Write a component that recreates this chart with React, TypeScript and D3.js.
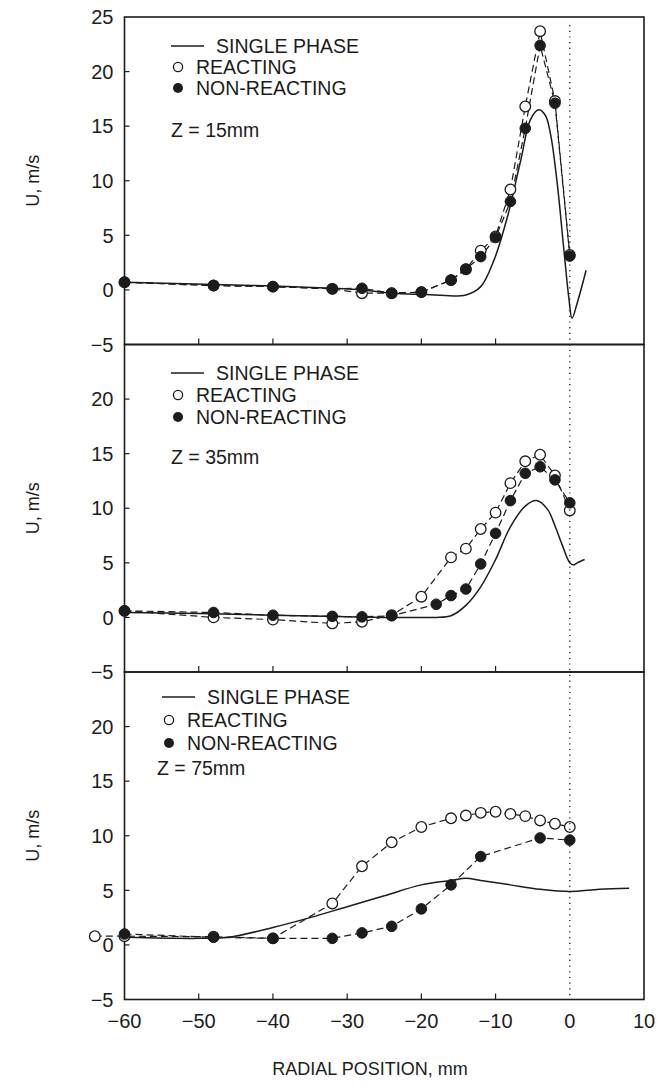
import React from "react";
import * as d3 from "d3";

// ---------- DATA ----------
const zLabels = ["Z = 15mm", "Z = 35mm", "Z = 75mm"];
const legendLabels = ["SINGLE PHASE", "REACTING", "NON-REACTING"];
const xTicks = [-60, -50, -40, -30, -20, -10, 0, 10];
const yTicksTop = [25, 20, 15, 10, 5, 0, -5];
const yTicksLower = [20, 15, 10, 5, 0, -5];

// Panel 1 (Z = 15mm)
const p1SingleX = [-60, -48, -40, -32, -28, -24, -20, -14, -12, -10.2, -8.4, -6.6, -5.3, -4.2, -3.3, -2.6, -1.7, -0.8, -0.1, 0.3, 1.0, 2.2];
const p1SingleY = [0.7, 0.5, 0.35, 0.15, 0.0, -0.3, -0.4, -0.46, 0.3, 2.75, 6.7, 11.9, 15.6, 16.5, 16.0, 14.3, 9.8, 3.7, -0.9, -2.6, -1.2, 1.8];
const p1ReactX = [-60, -48, -40, -32, -28, -24, -20, -16, -14, -12, -10, -8, -6, -4, -2, 0];
const p1ReactY = [0.7, 0.4, 0.3, 0.1, -0.3, -0.3, -0.2, 0.9, 1.9, 3.6, 4.9, 9.2, 16.8, 23.7, 17.3, 3.2];
const p1NonX = [-60, -48, -40, -32, -28, -24, -20, -16, -14, -12, -10, -8, -6, -4, -2, 0];
const p1NonY = [0.7, 0.4, 0.3, 0.1, 0.15, -0.3, -0.2, 0.9, 1.9, 3.05, 4.8, 8.1, 14.8, 22.4, 17.1, 3.1];

// Panel 2 (Z = 35mm)
const p2SingleX = [-60, -50, -40, -30, -25, -20, -18, -16, -14, -12, -10, -8, -6, -4.5, -3, -2, -1, 0, 0.5, 1, 2];
const p2SingleY = [0.45, 0.35, 0.2, 0.05, 0.0, 0.0, 0.0, 0.15, 1.1, 2.8, 5.3, 8.3, 10.2, 10.7, 9.9, 8.4, 6.6, 5.0, 4.8, 5.0, 5.3];
const p2ReactX = [-60, -48, -40, -32, -28, -24, -20, -16, -14, -12, -10, -8, -6, -4, -2, 0];
const p2ReactY = [0.6, 0.0, -0.2, -0.55, -0.4, 0.2, 1.9, 5.5, 6.3, 8.1, 9.6, 12.3, 14.3, 14.9, 13.0, 9.8];
const p2NonX = [-60, -48, -40, -32, -28, -24, -18, -16, -14, -12, -10, -8, -6, -4, -2, 0];
const p2NonY = [0.6, 0.45, 0.2, 0.1, 0.05, 0.15, 1.2, 2.0, 2.6, 4.9, 7.7, 10.7, 13.2, 13.8, 12.6, 10.5];

// Panel 3 (Z = 75mm)
const p3SingleX = [-60, -50, -46, -40, -35, -30, -25, -20, -16, -14, -12, -8, -4, 0, 4, 8];
const p3SingleY = [0.7, 0.6, 0.7, 1.6, 2.5, 3.5, 4.5, 5.5, 5.9, 6.1, 5.9, 5.5, 5.1, 4.9, 5.1, 5.2];
const p3ReactX = [-64, -60, -48, -40, -32, -28, -24, -20, -16, -14, -12, -10, -8, -6, -4, -2, 0];
const p3ReactY = [0.8, 0.8, 0.75, 0.6, 3.8, 7.2, 9.4, 10.8, 11.6, 11.85, 12.1, 12.2, 12.0, 11.8, 11.4, 11.1, 10.8];
const p3NonX = [-60, -48, -40, -32, -28, -24, -20, -16, -12, -4, 0];
const p3NonY = [1.0, 0.7, 0.6, 0.6, 1.1, 1.7, 3.3, 5.5, 8.1, 9.8, 9.6];

// ---------- LAYOUT ----------
const W = 660;
const H = 1086;
const X0 = 124.5;
const X1 = 644;
const PANEL_TOPS = [17, 344.5, 672];
const PANEL_H = 327.5;
const FONT = "'Liberation Sans', Arial, Helvetica, sans-serif";
const INK = "#1c1c1c";

const legendOffsets = [
  { lx: 171, ly: [29, 50, 71], zx: 171, zy: 113 },
  { lx: 171, ly: [28.5, 50.5, 72.5], zx: 171, zy: 112.5 },
  { lx: 162, ly: [25, 48, 71], zx: 157, zy: 96 },
];

type Pt = [number, number];
const zip = (xs: number[], ys: number[]): Pt[] => xs.map((x, i) => [x, ys[i]]);

const panels = [
  { single: zip(p1SingleX, p1SingleY), react: zip(p1ReactX, p1ReactY), non: zip(p1NonX, p1NonY) },
  { single: zip(p2SingleX, p2SingleY), react: zip(p2ReactX, p2ReactY), non: zip(p2NonX, p2NonY) },
  { single: zip(p3SingleX, p3SingleY), react: zip(p3ReactX, p3ReactY), non: zip(p3NonX, p3NonY) },
];

const fmt = (v: number) => (v < 0 ? "\u2212" + Math.abs(v) : String(v));

export default function App() {
  const x = d3.scaleLinear().domain([-60, 10]).range([X0, X1]);
  const R = 5.3;

  return (
    <svg
      width={W}
      height={H}
      style={{ display: "block", background: "#fff", position: "absolute", left: 0, top: 0 }}
    >
      <rect x={0} y={0} width={W} height={H} fill="#fff" />
      {panels.map((p, pi) => {
        const top = PANEL_TOPS[pi];
        const bottom = top + PANEL_H;
        const y = d3.scaleLinear().domain([-5, 25]).range([bottom, top]);
        const lineSmooth = d3
          .line<Pt>()
          .x((d) => x(d[0]))
          .y((d) => y(d[1]))
          .curve(d3.curveCatmullRom.alpha(0.5));
        const lineStraight = d3
          .line<Pt>()
          .x((d) => x(d[0]))
          .y((d) => y(d[1]));
        const yTicks = pi === 0 ? yTicksTop : yTicksLower;
        const lg = legendOffsets[pi];
        return (
          <g key={pi}>
            <rect x={X0} y={top} width={X1 - X0} height={PANEL_H} fill="none" stroke={INK} strokeWidth={1.6} />
            {yTicks.map((t) => (
              <g key={t}>
                {t > -5 && t < 25 && (
                  <line x1={X0} x2={X0 + 5} y1={y(t)} y2={y(t)} stroke={INK} strokeWidth={1.2} />
                )}
                <text
                  x={X0 - 11}
                  y={y(t)}
                  dy="0.36em"
                  textAnchor="end"
                  fontFamily={FONT}
                  fontSize={20}
                  fill={INK}
                >
                  {fmt(t)}
                </text>
              </g>
            ))}
            {xTicks
              .filter((t) => t > -60 && t < 0)
              .map((t) => (
                <line key={t} x1={x(t)} x2={x(t)} y1={bottom} y2={bottom - 6} stroke={INK} strokeWidth={1.2} />
              ))}
            <text
              transform={`translate(33,${top + PANEL_H / 2}) rotate(-90)`}
              textAnchor="middle"
              dy="0.35em"
              fontFamily={FONT}
              fontSize={18}
              fill={INK}
            >
              U, m/s
            </text>
            <path d={lineSmooth(p.single) || ""} fill="none" stroke={INK} strokeWidth={1.5} />
            <path d={lineStraight(p.react) || ""} fill="none" stroke={INK} strokeWidth={1.2} strokeDasharray="7,4" />
            <path d={lineStraight(p.non) || ""} fill="none" stroke={INK} strokeWidth={1.2} strokeDasharray="7,4" />
            {p.react.map((d, i) => (
              <circle key={"r" + i} cx={x(d[0])} cy={y(d[1])} r={R} fill="#fff" stroke={INK} strokeWidth={1.3} />
            ))}
            {p.non.map((d, i) => (
              <circle key={"n" + i} cx={x(d[0])} cy={y(d[1])} r={R} fill={INK} stroke={INK} strokeWidth={1} />
            ))}
            <line x1={lg.lx} x2={lg.lx + 33} y1={top + lg.ly[0]} y2={top + lg.ly[0]} stroke={INK} strokeWidth={1.3} />
            <text x={lg.lx + 45} y={top + lg.ly[0]} dy="0.36em" fontFamily={FONT} fontSize={19.5} fill={INK}>
              {legendLabels[0]}
            </text>
            <circle cx={lg.lx + 7} cy={top + lg.ly[1]} r={4.6} fill="#fff" stroke={INK} strokeWidth={1.3} />
            <text x={lg.lx + 25} y={top + lg.ly[1]} dy="0.36em" fontFamily={FONT} fontSize={19.5} fill={INK}>
              {legendLabels[1]}
            </text>
            <circle cx={lg.lx + 7} cy={top + lg.ly[2]} r={5} fill={INK} />
            <text x={lg.lx + 25} y={top + lg.ly[2]} dy="0.36em" fontFamily={FONT} fontSize={19.5} fill={INK}>
              {legendLabels[2]}
            </text>
            <text x={lg.zx} y={top + lg.zy} dy="0.36em" fontFamily={FONT} fontSize={19.5} fill={INK}>
              {zLabels[pi]}
            </text>
          </g>
        );
      })}
      <line
        x1={x(0)}
        x2={x(0)}
        y1={PANEL_TOPS[0] + 8}
        y2={PANEL_TOPS[2] + PANEL_H}
        stroke={INK}
        strokeWidth={1.3}
        strokeDasharray="1.2,4.5"
      />
      {xTicks.map((t) => (
        <text
          key={t}
          x={x(t)}
          y={PANEL_TOPS[2] + PANEL_H + 28}
          textAnchor="middle"
          fontFamily={FONT}
          fontSize={20}
          fill={INK}
        >
          {fmt(t)}
        </text>
      ))}
      <text x={370} y={1075} textAnchor="middle" fontFamily={FONT} fontSize={18} fill={INK}>
        RADIAL POSITION, mm
      </text>
    </svg>
  );
}
